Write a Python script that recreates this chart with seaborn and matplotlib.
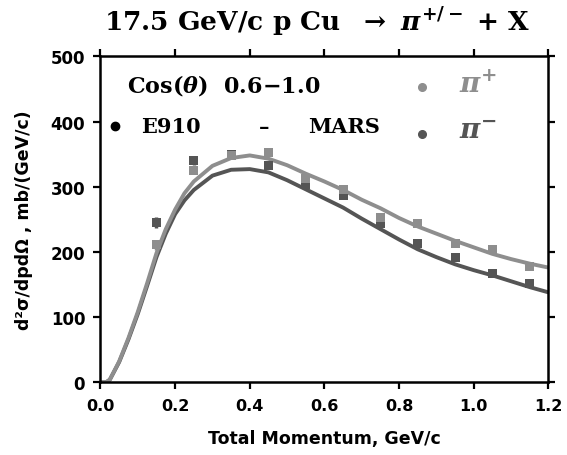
import numpy as np
import pandas as pd
import matplotlib
matplotlib.use("Agg")
import matplotlib.pyplot as plt
import seaborn as sns

# E910 data points
p_data = [0.15, 0.25, 0.35, 0.45, 0.55, 0.65, 0.75, 0.85, 0.95, 1.05, 1.15]
pip_data = [211, 325, 348, 353, 312, 295, 253, 243, 213, 203, 178]
pim_data = [245, 340, 350, 332, 304, 286, 243, 213, 192, 167, 152]
pip_err = [8, 6, 5, 5, 5, 5, 5, 5, 5, 5, 5]
pim_err = [8, 6, 5, 5, 5, 5, 5, 5, 5, 5, 5]

# MARS curves
p_mars = [0.0, 0.015, 0.025, 0.05, 0.075, 0.1, 0.125, 0.15, 0.175, 0.2, 0.225, 0.25,
          0.3, 0.35, 0.4, 0.45, 0.5, 0.55, 0.6, 0.65, 0.7, 0.75, 0.8, 0.85,
          0.9, 0.95, 1.0, 1.05, 1.1, 1.15, 1.2]
pip_mars = [0, 0, 4, 32, 68, 108, 152, 198, 235, 265, 290, 308,
            332, 344, 348, 343, 333, 320, 308, 295, 280, 267, 252, 239,
            228, 217, 207, 197, 189, 182, 176]
pim_mars = [0, 0, 4, 31, 66, 105, 148, 192, 228, 258, 279, 295,
            317, 326, 327, 322, 310, 296, 282, 268, 251, 235, 219, 204,
            192, 181, 172, 164, 155, 146, 138]

light = "#8e8e8e"
dark = "#555555"

sns.set_style("ticks")
plt.rcParams["font.family"] = ["DejaVu Sans"]
plt.rcParams["text.color"] = "black"
plt.rcParams["axes.labelcolor"] = "black"
plt.rcParams["axes.edgecolor"] = "black"
plt.rcParams["xtick.color"] = "black"
plt.rcParams["ytick.color"] = "black"
plt.rcParams["mathtext.fontset"] = "custom"
plt.rcParams["mathtext.rm"] = "DejaVu Serif:bold"
plt.rcParams["mathtext.it"] = "DejaVu Serif:italic:bold"
plt.rcParams["mathtext.bf"] = "DejaVu Serif:bold"

fig = plt.figure(figsize=(5.67, 4.56), dpi=100)
ax = fig.add_axes([0.1772, 0.1594, 0.7900, 0.7149])

mars = pd.DataFrame({"p": p_mars * 2, "val": pip_mars + pim_mars,
                     "sign": ["plus"] * len(p_mars) + ["minus"] * len(p_mars)})
sns.lineplot(data=mars, x="p", y="val", hue="sign", palette={"plus": light, "minus": dark},
             hue_order=["minus", "plus"], linewidth=2.8, legend=False, ax=ax)

ax.errorbar(p_data, pim_data, yerr=pim_err, fmt="none", ecolor=dark, elinewidth=2.5, capsize=0)
ax.errorbar(p_data, pip_data, yerr=pip_err, fmt="none", ecolor=light, elinewidth=2.5, capsize=0)
pts = pd.DataFrame({"p": p_data * 2, "val": pim_data + pip_data,
                    "sign": ["minus"] * len(p_data) + ["plus"] * len(p_data)})
sns.scatterplot(data=pts, x="p", y="val", hue="sign", palette={"plus": light, "minus": dark},
                marker="s", s=42, linewidth=0, legend=False, ax=ax, zorder=3)

ax.set_xlim(0, 1.2)
ax.set_ylim(0, 500)
ax.set_xticks(np.arange(0, 1.21, 0.2))
ax.set_xticklabels(["0.0", "0.2", "0.4", "0.6", "0.8", "1.0", "1.2"])
ax.set_yticks(np.arange(0, 501, 100))
for sp in ax.spines.values():
    sp.set_visible(True)
    sp.set_linewidth(1.8)
ax.tick_params(which="both", direction="out", length=5, width=1.6, labelsize=12,
               top=True, right=True, pad=6)
ax.tick_params(axis="x", labelsize=11.5)
for lab in ax.get_xticklabels() + ax.get_yticklabels():
    lab.set_fontweight("bold")

ax.set_xlabel("Total Momentum, GeV/c", fontsize=12.5, fontweight="bold", labelpad=12)
ax.set_ylabel("d²σ/dpdΩ , mb/(GeV/c)", fontsize=12.5, fontweight="bold")
ax.yaxis.set_label_coords(-0.15, 0.5)

serif = {"family": "DejaVu Serif", "weight": "bold"}
fig.text(0.56, 0.952, r"17.5 GeV/c p Cu  $\rightarrow$ $\pi^{+/-}$ + X",
         fontsize=19, ha="center", va="center", fontdict=serif)

ax.text(0.06, 0.915, r"Cos($\theta$)  0.6$-$1.0", transform=ax.transAxes, fontsize=16,
        va="center", fontdict=serif)
ax.plot([0.032], [0.786], "o", color="black", markersize=6, transform=ax.transAxes)
ax.text(0.091, 0.786, "E910", transform=ax.transAxes, fontsize=15, va="center", fontdict=serif)
ax.text(0.365, 0.786, "–", transform=ax.transAxes, fontsize=15, va="center", ha="center",
        fontdict=serif)
ax.text(0.464, 0.786, "MARS", transform=ax.transAxes, fontsize=15, va="center", fontdict=serif)

ax.plot([0.718], [0.906], "o", color=light, markersize=5.5, transform=ax.transAxes)
ax.text(0.80, 0.915, r"$\pi^{+}$", transform=ax.transAxes, fontsize=20, va="center", color=light)
ax.plot([0.718], [0.761], "o", color=dark, markersize=5.5, transform=ax.transAxes)
ax.text(0.80, 0.775, r"$\pi^{-}$", transform=ax.transAxes, fontsize=20, va="center", color=dark)

fig.savefig("out.png", dpi=100)
